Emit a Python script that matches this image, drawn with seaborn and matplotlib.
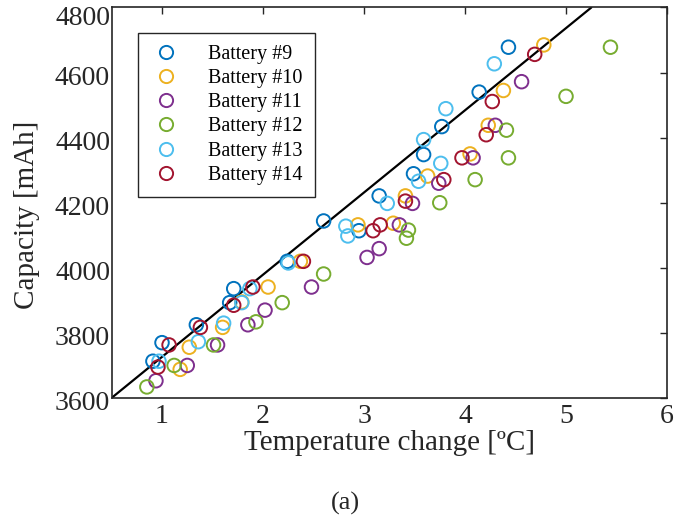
import numpy as np
import pandas as pd
import matplotlib
matplotlib.use("Agg")
import matplotlib.pyplot as plt
import matplotlib.transforms as mtransforms
from matplotlib.lines import Line2D
import seaborn as sns

# ---- data ----
battery_names = ["Battery #9", "Battery #10", "Battery #11",
                 "Battery #12", "Battery #13", "Battery #14"]

b9_temp = [0.91, 1.00, 1.34, 1.67, 1.71, 2.24, 2.60, 2.95, 3.15, 3.49, 3.59, 3.77, 4.14, 4.43]
b9_cap = [3713, 3770, 3825, 3893, 3936, 4020, 4144, 4114, 4221, 4289, 4348, 4434, 4540, 4678]

b10_temp = [1.18, 1.27, 1.60, 1.79, 2.05, 2.37, 2.94, 3.29, 3.41, 3.63, 4.05, 4.23, 4.38, 4.78]
b10_cap = [3688, 3756, 3817, 3895, 3941, 4020, 4132, 4137, 4221, 4282, 4350, 4438, 4545, 4685]

b11_temp = [0.94, 1.25, 1.55, 1.85, 2.02, 2.48, 3.03, 3.15, 3.35, 3.48, 3.74, 4.08, 4.30, 4.56]
b11_cap = [3653, 3700, 3763, 3825, 3870, 3941, 4032, 4059, 4132, 4198, 4260, 4338, 4438, 4572]

b12_temp = [0.85, 1.12, 1.51, 1.93, 2.19, 2.60, 3.42, 3.44, 3.75, 4.10, 4.43, 4.41, 5.00, 5.44]
b12_cap = [3634, 3700, 3763, 3834, 3893, 3981, 4091, 4116, 4200, 4271, 4338, 4423, 4527, 4678]

b13_temp = [0.97, 1.36, 1.61, 1.79, 1.87, 2.25, 2.82, 2.84, 3.23, 3.54, 3.59, 3.76, 3.81, 4.29]
b13_cap = [3713, 3773, 3830, 3893, 3936, 4015, 4128, 4098, 4198, 4266, 4394, 4321, 4489, 4627]

b14_temp = [0.96, 1.07, 1.38, 1.71, 1.90, 2.40, 3.09, 3.16, 3.41, 3.79, 3.97, 4.21, 4.27, 4.69]
b14_cap = [3695, 3763, 3817, 3885, 3941, 4020, 4114, 4132, 4205, 4271, 4338, 4409, 4511, 4656]

line_intercept = 3473.7   # mAh at 0 degC
line_slope = 252.6        # mAh per degC

x_ticks = [1, 2, 3, 4, 5, 6]
y_ticks = [3600, 3800, 4000, 4200, 4400, 4600, 4800]

colors = ["#0072BD", "#EDB120", "#7E2F8E", "#77AC30", "#4DBEEE", "#A2142F"]

temps = [b9_temp, b10_temp, b11_temp, b12_temp, b13_temp, b14_temp]
caps = [b9_cap, b10_cap, b11_cap, b12_cap, b13_cap, b14_cap]
df = pd.concat([pd.DataFrame({"temp": t, "cap": c, "battery": n})
                for t, c, n in zip(temps, caps, battery_names)], ignore_index=True)

# ---- style ----
sns.set_theme(style="white")
plt.rcParams["font.family"] = ["Liberation Serif", "DejaVu Serif"]
plt.rcParams["mathtext.fontset"] = "stix"
txt_color = "#262626"

fig = plt.figure(figsize=(6.9, 5.17), dpi=100)
ax = fig.add_axes([0.1616, 0.2302, 0.9667 - 0.1616, 0.9855 - 0.2302])

for name, col in zip(battery_names, colors):
    sub = df[df["battery"] == name]
    sns.scatterplot(data=sub, x="temp", y="cap", ax=ax, color=col, s=95,
                    marker="o", legend=False, zorder=3)
    coll = ax.collections[-1]
    coll.set_facecolor("none")
    coll.set_edgecolor(col)
    coll.set_linewidth(1.4)

ax.axline((0, line_intercept), slope=line_slope, color="black", lw=1.6, zorder=2)

ax.set_xlim(0.5, 6)
ax.set_ylim(3600, 4800)
ax.set_xticks(x_ticks)
ax.set_yticks(y_ticks)
ax.tick_params(direction="in", length=5, width=1.0, top=True, right=True,
               labelsize=20, colors=txt_color)
ax.tick_params(axis="y", pad=1)
ax.tick_params(axis="x", pad=4)
for sp in ax.spines.values():
    sp.set_color(txt_color)
    sp.set_linewidth(1.2)

# nudge y tick labels slightly downward like the reference (top one more)
ylabels = ax.get_yticklabels()
for i, lab in enumerate(ylabels):
    dy = -8 / 72 if i == len(ylabels) - 1 else -3 / 72
    lab.set_transform(lab.get_transform() +
                      mtransforms.ScaledTranslation(0, dy * 0.72, fig.dpi_scale_trans))

ax.set_xlabel("Temperature change [ºC]", fontsize=21, color=txt_color)
ax.xaxis.set_label_coords(0.5, -0.116)
ax.xaxis.label.set_va("center")
ax.set_ylabel("Capacity [mAh]", fontsize=21, color=txt_color)
ax.yaxis.set_label_coords(-0.152, 0.469)
ax.yaxis.label.set_va("center")

handles = [Line2D([], [], ls="none", marker="o", markersize=9.5,
                  markerfacecolor="none", markeredgecolor=c, markeredgewidth=1.4)
           for c in colors]
leg = ax.legend(handles, battery_names, loc="upper left",
                bbox_to_anchor=(0.047, 0.935), fontsize=14.5, frameon=True,
                fancybox=False, edgecolor=txt_color, framealpha=1,
                handletextpad=1.3, labelspacing=0.25, borderpad=0.6,
                handlelength=1.6, borderaxespad=0)
leg.get_frame().set_linewidth(1.0)
for t in leg.get_texts():
    t.set_color("black")

fig.text(0.5, 0.003, "(a)", ha="center", va="bottom", fontsize=19, color=txt_color)

fig.savefig("out.png", dpi=100)
